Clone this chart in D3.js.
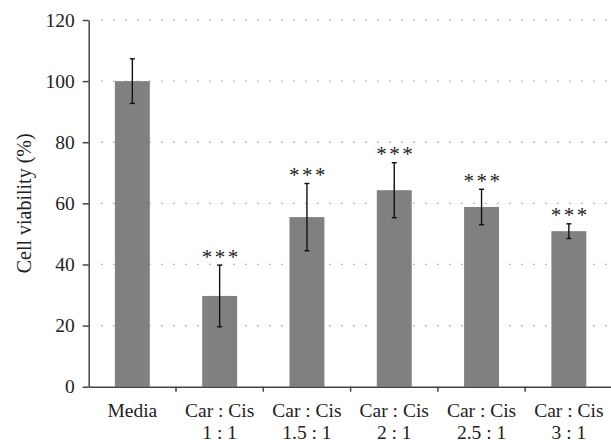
<!DOCTYPE html>
<html>
<head>
<meta charset="utf-8">
<script src="https://cdn.jsdelivr.net/npm/d3@7"></script>
<style>
	body { margin: 0; background: #fff; }
	svg { display: block; font-family: "Liberation Serif", "DejaVu Serif", serif; }
</style>
</head>
<body>
<svg id="chart" width="611" height="440"></svg>
<script>
// data
var categories = ['Media', 'Car : Cis|1 : 1', 'Car : Cis|1.5 : 1', 'Car : Cis|2 : 1', 'Car : Cis|2.5 : 1', 'Car : Cis|3 : 1'];
var viability = [100, 29.7, 55.5, 64.3, 58.8, 50.9];
var errors = [7.3, 10.1, 11.0, 9.0, 5.8, 2.4];
var stars = ['', '***', '***', '***', '***', '***'];
var yTicks = [0, 20, 40, 60, 80, 100, 120];

var svg = d3.select('#chart');
var plotLeft = 88.7, plotRight = 612.5, plotTop = 20, plotBottom = 386.7;

var x = d3.scaleBand().domain(categories).range([plotLeft, plotRight]).paddingInner(0).paddingOuter(0);
var y = d3.scaleLinear().domain([0, 120]).range([plotBottom, plotTop]);

// dotted grid
svg.append('g')
	.selectAll('line')
	.data(yTicks.filter(function(d) { return d > 0; }))
	.enter().append('line')
	.attr('x1', plotLeft + 12.5).attr('x2', 611)
	.attr('y1', function(d) { return y(d); })
	.attr('y2', function(d) { return y(d); })
	.attr('stroke', '#999')
	.attr('stroke-width', 1.3)
	.attr('stroke-dasharray', '1.3,10.7');

// bars
var bw = x.bandwidth() * 0.4;
svg.append('g')
	.selectAll('rect')
	.data(viability)
	.enter().append('rect')
	.attr('x', function(d, i) { return x(categories[i]) + (x.bandwidth() - bw) / 2; })
	.attr('width', bw)
	.attr('y', function(d) { return y(d); })
	.attr('height', function(d) { return y(0) - y(d); })
	.attr('fill', '#808080');

// error bars
var eb = svg.append('g').attr('stroke', '#111').attr('stroke-width', 1.4);
viability.forEach(function(v, i) {
	var cx = x(categories[i]) + x.bandwidth() / 2;
	var hi = y(v + errors[i]), lo = y(v - errors[i]);
	eb.append('line').attr('x1', cx).attr('x2', cx).attr('y1', hi).attr('y2', lo);
	eb.append('line').attr('x1', cx - 2.5).attr('x2', cx + 2.5).attr('y1', hi).attr('y2', hi);
	eb.append('line').attr('x1', cx - 2.5).attr('x2', cx + 2.5).attr('y1', lo).attr('y2', lo);
	if (stars[i]) {
		svg.append('text')
			.attr('x', cx + 1.5)
			.attr('y', hi - 1.5)
			.attr('text-anchor', 'middle')
			.attr('font-size', 21)
			.attr('letter-spacing', 2.5)
			.attr('fill', '#222')
			.text(stars[i]);
	}
});

// y axis
var yAxis = svg.append('g')
	.attr('transform', 'translate(' + plotLeft + ',0)')
	.call(d3.axisLeft(y).tickValues(yTicks).tickSize(6).tickSizeOuter(0).tickPadding(8));
yAxis.select('.domain').attr('stroke', '#444').attr('stroke-width', 1.5);
yAxis.selectAll('.tick line').attr('stroke', '#444').attr('stroke-width', 1.5);
yAxis.selectAll('.tick text').attr('font-size', 19.5).attr('fill', '#222');
yAxis.attr('font-family', null);

// x axis
var xAxis = svg.append('g')
	.attr('transform', 'translate(0,' + plotBottom + ')')
	.call(d3.axisBottom(x).tickSize(0).tickSizeOuter(0).tickFormat(''));
xAxis.select('.domain').attr('stroke', '#444').attr('stroke-width', 1.5);
xAxis.selectAll('.tick text').remove();

// category boundary ticks
svg.append('g')
	.selectAll('line')
	.data(categories.slice(1))
	.enter().append('line')
	.attr('x1', function(d) { return x(d); })
	.attr('x2', function(d) { return x(d); })
	.attr('y1', plotBottom).attr('y2', plotBottom + 5)
	.attr('stroke', '#444').attr('stroke-width', 1.5);

// category labels
svg.append('g')
	.selectAll('text')
	.data(categories)
	.enter().append('text')
	.attr('x', function(d) { return x(d) + x.bandwidth() / 2; })
	.attr('y', 416.5)
	.attr('text-anchor', 'middle')
	.attr('font-size', 19.5)
	.attr('fill', '#222')
	.each(function(d) {
		var parts = d.split('|');
		var t = d3.select(this);
		parts.forEach(function(p, k) {
			t.append('tspan')
				.attr('x', x(d) + x.bandwidth() / 2)
				.attr('dy', k === 0 ? 0 : 22)
				.text(p);
		});
	});

// y axis title
svg.append('text')
	.attr('transform', 'translate(31,' + y(60) + ') rotate(-90)')
	.attr('text-anchor', 'middle')
	.attr('font-size', 20)
	.attr('fill', '#222')
	.text('Cell viability (%)');
</script>
</body>
</html>
